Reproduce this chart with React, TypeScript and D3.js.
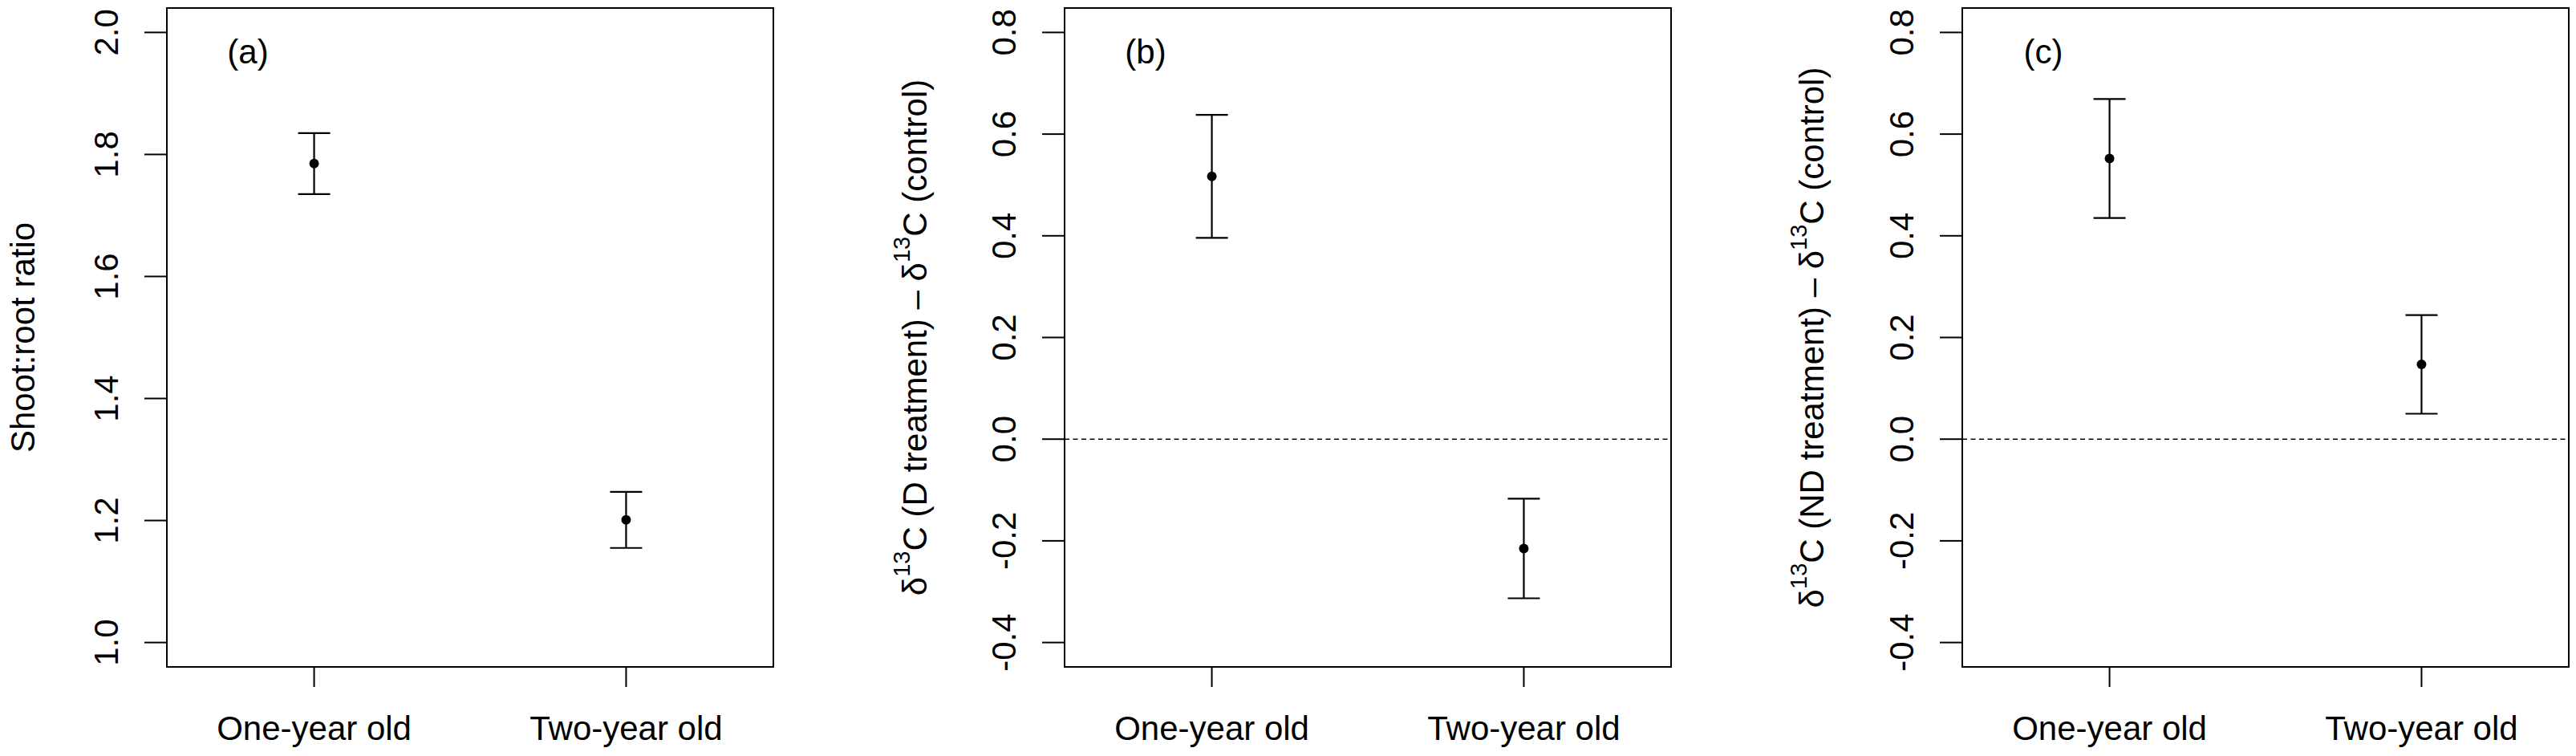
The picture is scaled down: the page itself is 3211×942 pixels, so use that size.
import React, { useRef, useEffect } from 'react';
import * as d3 from 'd3';

// values
const categories = ['One-year old', 'Two-year old'];
const shootRootMean = [1.785, 1.201];
const shootRootErr = [0.05, 0.046];
const deltaDMean = [0.517, -0.215];
const deltaDErr = [0.121, 0.098];
const deltaNDMean = [0.552, 0.147];
const deltaNDErr = [0.117, 0.097];
const shootRootTicks = [1.0, 1.2, 1.4, 1.6, 1.8, 2.0];
const deltaTicks = [-0.4, -0.2, 0.0, 0.2, 0.4, 0.6, 0.8];
const panelLabels = ['(a)', '(b)', '(c)'];

type Seg = { t: string; sup?: boolean };

interface Panel {
  label: string;
  mean: number[];
  err: number[];
  ticks: number[];
  domain: [number, number];
  title: Seg[];
  titleOffset: number;
  zeroLine: boolean;
}

const panels: Panel[] = [
  {
    label: panelLabels[0],
    mean: shootRootMean,
    err: shootRootErr,
    ticks: shootRootTicks,
    domain: [0.96, 2.04],
    title: [{ t: 'Shoot:root ratio' }],
    titleOffset: 165,
    zeroLine: false,
  },
  {
    label: panelLabels[1],
    mean: deltaDMean,
    err: deltaDErr,
    ticks: deltaTicks,
    domain: [-0.448, 0.848],
    title: [
      { t: 'δ' }, { t: '13', sup: true }, { t: 'C (D treatment) – δ' },
      { t: '13', sup: true }, { t: 'C (control)' },
    ],
    titleOffset: 172,
    zeroLine: true,
  },
  {
    label: panelLabels[2],
    mean: deltaNDMean,
    err: deltaNDErr,
    ticks: deltaTicks,
    domain: [-0.448, 0.848],
    title: [
      { t: 'δ' }, { t: '13', sup: true }, { t: 'C (ND treatment) – δ' },
      { t: '13', sup: true }, { t: 'C (control)' },
    ],
    titleOffset: 173,
    zeroLine: true,
  },
];

const W = 3211;
const H = 942;
const FONT = '"Liberation Sans", Arial, sans-serif';
const FS = 42;

export default function App() {
  const svgRef = useRef<SVGSVGElement>(null);

  useEffect(() => {
    if (!svgRef.current) return;
    const svg = d3.select(svgRef.current);
    svg.selectAll('*').remove();

    svg.append('rect').attr('width', W).attr('height', H).attr('fill', '#fff');

    const top = 10;
    const bottom = 831;
    const plotW = 756;
    const lefts = [208, 1327, 2446];

    panels.forEach((p, i) => {
      const left = lefts[i];
      const x = d3.scaleLinear().domain([0.528, 2.472]).range([left, left + plotW]);
      const y = d3.scaleLinear().domain(p.domain).range([bottom, top]);
      const g = svg.append('g');

      // box
      g.append('rect')
        .attr('x', left).attr('y', top)
        .attr('width', plotW).attr('height', bottom - top)
        .attr('fill', 'none').attr('stroke', '#000').attr('stroke-width', 2);

      // y ticks + labels
      p.ticks.forEach((t) => {
        g.append('line')
          .attr('x1', left - 28).attr('x2', left)
          .attr('y1', y(t)).attr('y2', y(t))
          .attr('stroke', '#000').attr('stroke-width', 2);
        g.append('text')
          .attr('transform', `translate(${left - 61},${y(t)}) rotate(-90)`)
          .attr('text-anchor', 'middle')
          .attr('font-family', FONT).attr('font-size', FS)
          .text(t.toFixed(1));
      });

      // x ticks + labels
      categories.forEach((c, k) => {
        const cx = x(k + 1);
        g.append('line')
          .attr('x1', cx).attr('x2', cx)
          .attr('y1', bottom).attr('y2', bottom + 25)
          .attr('stroke', '#000').attr('stroke-width', 2);
        g.append('text')
          .attr('x', cx).attr('y', 922)
          .attr('text-anchor', 'middle')
          .attr('font-family', FONT).attr('font-size', FS)
          .text(c);
      });

      // y title
      const title = g.append('text')
        .attr('transform', `translate(${left - p.titleOffset},${(top + bottom) / 2}) rotate(-90)`)
        .attr('text-anchor', 'middle')
        .attr('font-family', FONT).attr('font-size', FS);
      let raised = false;
      p.title.forEach((s) => {
        const ts = title.append('tspan').text(s.t);
        if (s.sup) {
          ts.attr('font-size', 29).attr('dy', -21);
          raised = true;
        } else if (raised) {
          ts.attr('dy', 21);
          raised = false;
        }
      });

      // panel label
      g.append('text')
        .attr('x', left + 101).attr('y', 79)
        .attr('text-anchor', 'middle')
        .attr('font-family', FONT).attr('font-size', FS)
        .text(p.label);

      // zero reference line
      if (p.zeroLine) {
        g.append('line')
          .attr('x1', left).attr('x2', left + plotW)
          .attr('y1', y(0)).attr('y2', y(0))
          .attr('stroke', '#000').attr('stroke-width', 1.6)
          .attr('stroke-dasharray', '6,4.5');
      }

      // error bars + points
      p.mean.forEach((m, k) => {
        const cx = x(k + 1);
        const hi = y(m + p.err[k]);
        const lo = y(m - p.err[k]);
        g.append('line')
          .attr('x1', cx).attr('x2', cx).attr('y1', hi).attr('y2', lo)
          .attr('stroke', '#000').attr('stroke-width', 2.2);
        [hi, lo].forEach((yy) => {
          g.append('line')
            .attr('x1', cx - 20).attr('x2', cx + 20)
            .attr('y1', yy).attr('y2', yy)
            .attr('stroke', '#000').attr('stroke-width', 2.2);
        });
        g.append('circle')
          .attr('cx', cx).attr('cy', y(m)).attr('r', 6)
          .attr('fill', '#000');
      });
    });
  }, []);

  return (
    <svg
      ref={svgRef}
      width={W}
      height={H}
      style={{ position: 'absolute', left: 0, top: 0, display: 'block' }}
    />
  );
}
